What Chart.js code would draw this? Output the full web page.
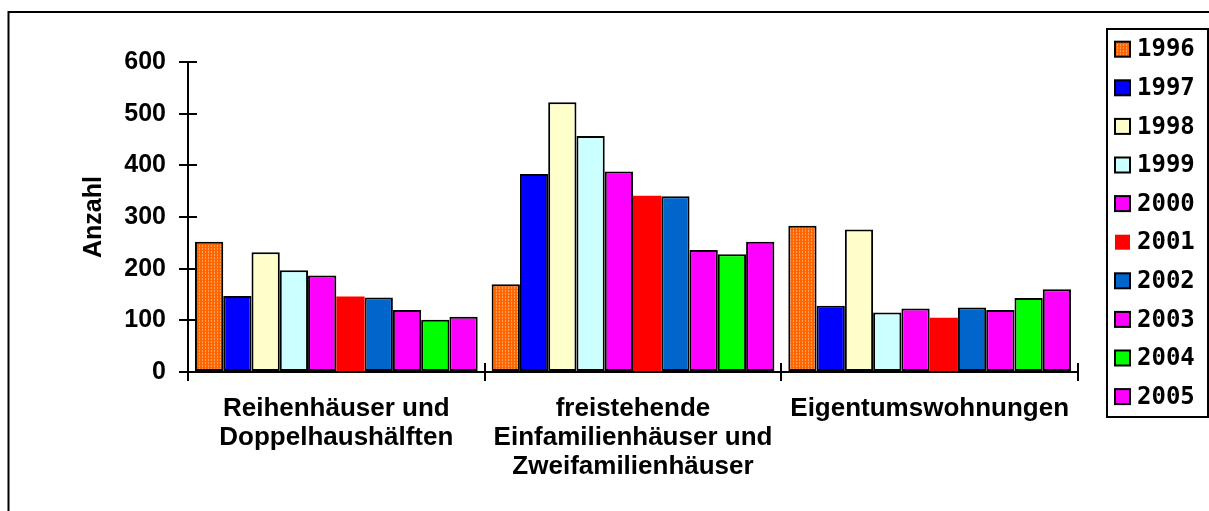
<!DOCTYPE html>
<html>
<head>
<meta charset="utf-8">
<script src="https://cdn.jsdelivr.net/npm/chart.js@4"></script>
<style>
  body { margin: 0; background: #fff; }
  #wrap { width: 1209px; height: 511px; }
</style>
</head>
<body>
<div id="wrap"><canvas id="myChart" width="1209" height="511"></canvas></div>
<script>
// Kategorien (x-Achse)
const kategorien = [
  ['Reihenhäuser und', 'Doppelhaushälften'],
  ['freistehende', 'Einfamilienhäuser und', 'Zweifamilienhäuser'],
  'Eigentumswohnungen'
];
const jahre = ['1996', '1997', '1998', '1999', '2000', '2001', '2002', '2003', '2004', '2005'];

// Anzahl je Jahr (1996..2005)
const reihenhaeuser = [252, 147, 232, 197, 187, 146, 144, 120, 101, 107];
const freistehend   = [170, 383, 522, 457, 388, 341, 340, 236, 228, 252];
const eigentum      = [283, 128, 276, 115, 123, 105, 125, 120, 143, 160];

const yTicks = [0, 100, 200, 300, 400, 500, 600];

const farben = ['#FF6600', '#0000FF', '#FFFFCC', '#CCFFFF', '#FF00FF',
                '#FF0000', '#0066CC', '#FF00FF', '#00FF00', '#FF00FF'];

// gepunktetes Orange fuer 1996
function musterOrange() {
  const c = document.createElement('canvas');
  c.width = 3; c.height = 3;
  const g = c.getContext('2d');
  g.fillStyle = '#FF6600';
  g.fillRect(0, 0, 3, 3);
  g.fillStyle = '#FFA060';
  g.fillRect(1, 0, 1, 1);
  g.fillRect(1, 2, 1, 1);
  return g.createPattern(c, 'repeat');
}

const datasets = jahre.map(function (j, i) {
  return {
    label: j,
    data: [reihenhaeuser[i], freistehend[i], eigentum[i]],
    backgroundColor: i === 0 ? musterOrange() : farben[i],
    borderColor: '#000',
    borderWidth: i === 5 ? 0 : 2,
    borderSkipped: false,
    categoryPercentage: 0.953,
    barPercentage: 1.0
  };
});

// Rahmen, Legende und durchgehende Tickstriche
const extras = {
  id: 'extras',
  beforeDraw(chart) {
    const ctx = chart.ctx;
    ctx.save();
    ctx.fillStyle = '#fff';
    ctx.fillRect(0, 0, chart.width, chart.height);
    ctx.restore();
  },
  afterDraw(chart) {
    const ctx = chart.ctx;
    const area = chart.chartArea;
    const x = chart.scales.x;
    const y = chart.scales.y;
    ctx.save();
    ctx.strokeStyle = '#000';
    ctx.lineWidth = 2;

    // äußerer Rahmen
    ctx.beginPath();
    ctx.moveTo(8.5, 530);
    ctx.lineTo(8.5, 12);
    ctx.lineTo(1230, 12);
    ctx.stroke();

    // Tickstriche nach innen
    ctx.beginPath();
    yTicks.forEach(function (v) {
      const py = Math.round(y.getPixelForValue(v));
      ctx.moveTo(area.left, py);
      ctx.lineTo(area.left + 9, py);
    });
    const n = kategorien.length;
    for (let i = 0; i <= n; i++) {
      const px = Math.round(x.left + i * x.width / n);
      ctx.moveTo(px, area.bottom);
      ctx.lineTo(px, area.bottom - 9);
    }
    ctx.stroke();

    // Legende
    ctx.strokeRect(1107, 29, 101, 388);
    ctx.font = 'bold 24px "DejaVu Sans Mono", monospace';
    ctx.textBaseline = 'middle';
    chart.data.datasets.forEach(function (ds, i) {
      const cy = 49.2 + i * 38.6;
      ctx.fillStyle = ds.backgroundColor;
      ctx.fillRect(1115, cy - 7.5, 15, 15);
      if (ds.borderWidth > 0) ctx.strokeRect(1115, cy - 7.5, 15, 15);
      ctx.fillStyle = '#000';
      ctx.fillText(ds.label, 1137, cy + 1);
    });
    ctx.restore();
  }
};

Chart.defaults.font.family = '"Liberation Sans", Arial, sans-serif';
Chart.defaults.color = '#000';

const ctx = document.getElementById('myChart');
new Chart(ctx, {
  type: 'bar',
  data: { labels: kategorien, datasets: datasets },
  options: {
    responsive: false,
    animation: false,
    layout: { padding: { top: 62, right: 131, left: 0, bottom: 0 } },
    plugins: {
      legend: { display: false },
      tooltip: { enabled: false }
    },
    scales: {
      x: {
        grid: { drawOnChartArea: false, color: '#000', lineWidth: 2, tickLength: 9 },
        border: { display: true, color: '#000', width: 2 },
        ticks: {
          font: { size: 26, weight: 'bold', lineHeight: 1.127 },
          padding: 13,
          maxRotation: 0,
          autoSkip: false
        },
        afterFit(scale) { scale.height = 139; }
      },
      y: {
        min: 0,
        max: 600,
        grid: { drawOnChartArea: false, color: '#000', lineWidth: 2, tickLength: 9 },
        border: { display: true, color: '#000', width: 2 },
        ticks: {
          stepSize: 100,
          font: { size: 25, weight: 'bold' },
          padding: 13
        },
        title: {
          display: true,
          text: 'Anzahl',
          font: { size: 25, weight: 'bold' },
          padding: { top: 79, bottom: 0 }
        },
        afterFit(scale) { scale.width = 188; }
      }
    }
  },
  plugins: [extras]
});
</script>
</body>
</html>
